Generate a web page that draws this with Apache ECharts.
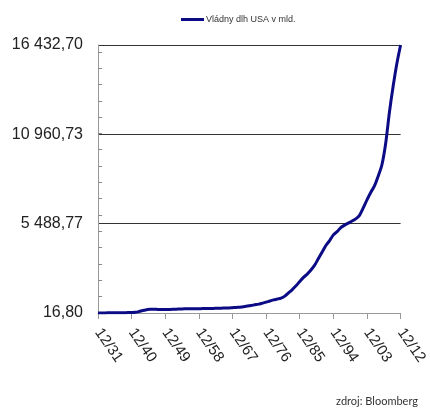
<!DOCTYPE html>
<html>
<head>
<meta charset="utf-8">
<script src="https://cdn.jsdelivr.net/npm/echarts@6/dist/echarts.min.js"></script>
<style>
  html, body { margin: 0; padding: 0; background: #fff; }
  #main { width: 430px; height: 410px; }
</style>
</head>
<body>
<div id="main"></div>
<script>
// years 1931 .. 2012, label like 12/31
var years = [];
for (var y = 1931; y <= 2012; y++) {
    years.push('12/' + String(y).slice(2));
}

// Vládny dlh USA v mld.
var debt = [
    16.8, 19, 22, 27, 29, 34, 36, 37, 40, 43,                  // 1931-1940
    58, 108, 170, 215, 250, 250, 235, 230, 230, 235,           // 1941-1950
    240, 250, 265, 270, 275, 275, 275, 280, 285, 290,          // 1951-1960
    295, 300, 305, 315, 320, 330, 345, 360, 370, 400,          // 1961-1970
    440, 480, 520, 560, 620, 680, 750, 820, 870, 930,          // 1971-1980
    1050, 1250, 1450, 1680, 1950, 2200, 2400, 2650, 2950, 3350, // 1981-1990
    3750, 4150, 4450, 4800, 5000, 5250, 5400, 5520, 5650, 5780, // 1991-2000
    6000, 6450, 6950, 7400, 7800, 8400, 9100, 10400, 12300, 13900, // 2001-2010
    15300, 16432.7                                             // 2011-2012
];

var yLabelValues = [16.8, 5488.77, 10960.73, 16432.7];
var yLabelTexts = ['16,80', '5 488,77', '10 960,73', '16 432,70'];

// small ticks on the value axis every 1000
var yTickValues = [];
for (var k = 0; k <= 16; k++) {
    yTickValues.push(16.8 + k * 1000);
}

var seriesName = 'Vládny dlh USA v mld.';

var myChart = echarts.init(document.getElementById('main'));

option = {
    animation: false,
    backgroundColor: '#fff',
    legend: {
        data: [seriesName],
        left: 181,
        top: 15,
        padding: 0,
        icon: 'rect',
        itemWidth: 23,
        itemHeight: 3,
        itemGap: 2,
        textStyle: {
            fontFamily: 'Liberation Sans',
            fontSize: 9,
            color: '#333',
            padding: [0, 0, 0, -3]
        }
    },
    grid: {
        left: 98,
        right: 26,
        top: 45,
        bottom: 97
    },
    xAxis: {
        type: 'category',
        boundaryGap: false,
        data: years,
        axisLine: { lineStyle: { color: '#999', width: 1 } },
        axisTick: {
            interval: 8,
            length: 6,
            lineStyle: { color: '#999' }
        },
        axisLabel: {
            interval: 8,
            rotate: -55,
            margin: 17,
            fontFamily: 'Liberation Sans',
            fontSize: 15,
            color: '#222'
        },
        splitLine: { show: false }
    },
    yAxis: [
        {
            type: 'value',
            min: 16.8,
            max: 16432.7,
            position: 'left',
            axisLine: { show: false },
            axisTick: { show: false, customValues: yLabelValues },
            axisLabel: {
                customValues: yLabelValues,
                margin: 15,
                fontFamily: 'Liberation Sans',
                fontSize: 16,
                color: '#222',
                formatter: function (v) {
                    var best = 0;
                    for (var i = 1; i < yLabelValues.length; i++) {
                        if (Math.abs(yLabelValues[i] - v) < Math.abs(yLabelValues[best] - v)) best = i;
                    }
                    return yLabelTexts[best];
                }
            },
            splitLine: {
                show: true,
                lineStyle: { color: ['transparent', '#333', '#333', '#333'], width: 1 }
            }
        },
        {
            type: 'value',
            min: 16.8,
            max: 16432.7,
            position: 'left',
            axisLine: { show: true, lineStyle: { color: '#999', width: 1 } },
            axisTick: {
                show: true,
                inside: true,
                length: 4,
                customValues: yTickValues,
                lineStyle: { color: '#888' }
            },
            axisLabel: { show: false },
            splitLine: { show: false }
        }
    ],
    series: [
        {
            name: seriesName,
            type: 'line',
            yAxisIndex: 0,
            data: debt,
            smooth: 0.3,
            showSymbol: false,
            lineStyle: { color: '#0b0b85', width: 3 },
            itemStyle: { color: '#0b0b85' },
            z: 5
        }
    ],
    graphic: [
        {
            type: 'text',
            right: 12,
            top: 396,
            style: {
                text: 'zdroj: Bloomberg',
                fontFamily: 'Lato',
                fontSize: 11,
                fill: '#333'
            }
        }
    ]
};

myChart.setOption(option);
</script>
</body>
</html>
